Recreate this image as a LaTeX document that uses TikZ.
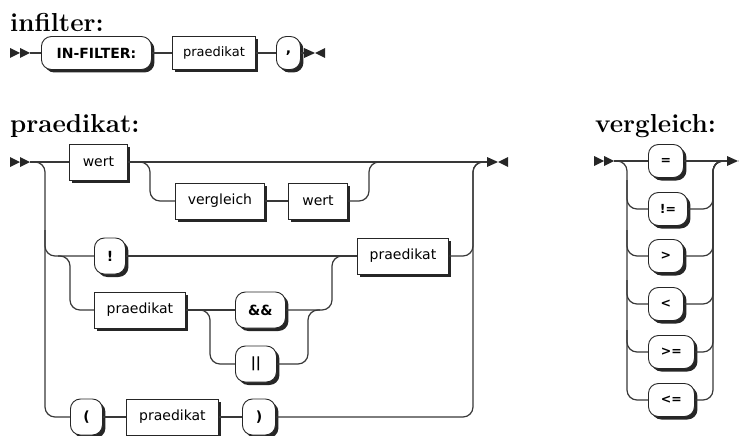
\documentclass[tikz,border=0pt]{standalone}
\usepackage{fontspec}
\newfontfamily\boxfont{DejaVu Sans}
\usetikzlibrary{shadows}
\tikzset{
  x=1pt, y=-1pt,
  rail/.style={draw=black!78, line width=1.2pt, rounded corners=10pt},
  boxbase/.style={draw=black!85, line width=0.9pt, fill=white, inner sep=0pt,
    drop shadow={shadow xshift=3pt, shadow yshift=-3pt, fill=black!85, opacity=1}},
  nt/.style={boxbase, minimum height=36pt, anchor=west,
    font=\boxfont\fontsize{14}{16}\selectfont},
  term/.style={boxbase, rounded corners=10pt, minimum height=36pt, anchor=west,
    font=\boxfont\bfseries\fontsize{14}{16}\selectfont},
  ntsmall/.style={nt, minimum height=33pt, font=\boxfont\fontsize{13}{15}\selectfont},
  termsmall/.style={term, rounded corners=10pt, minimum height=33pt,
    font=\boxfont\bfseries\fontsize{14}{16}\selectfont},
  termv/.style={term, minimum height=33pt, font=\boxfont\bfseries\fontsize{12.5}{14}\selectfont},
  title/.style={anchor=base west, inner sep=0pt, font=\bfseries\fontsize{26}{30}\selectfont},
  marker/.style={fill=black!85, draw=none},
}
% double arrow at the start of a rule, arrow pair at its end
\newcommand{\railstart}[2]{%
  \fill[marker] (#1,#2-5) -- (#1+10,#2) -- (#1,#2+5) -- cycle;
  \fill[marker] (#1+10,#2-5) -- (#1+20,#2) -- (#1+10,#2+5) -- cycle;}
\newcommand{\railstop}[2]{%
  \fill[marker] (#1,#2-5) -- (#1+11,#2) -- (#1,#2+5) -- cycle;
  \fill[marker] (#1+21,#2-5) -- (#1+11,#2) -- (#1+21,#2+5) -- cycle;}
\begin{document}
\begin{tikzpicture}
\useasboundingbox (0,0) rectangle (739,436);

% ---------------- infilter ----------------
\node[title] (tinf) at (10,32) {infilter:};
\railstart{10}{53}
\coordinate (i0) at (30,53);
\coordinate (iend) at (304,53);
\node[termsmall, minimum width=110pt] (inf) at (41,53) {IN-FILTER:};
\node[ntsmall, minimum width=83pt] (ipr) at (172,53) {praedikat};
\node[termsmall, minimum width=24pt] (comma) at (276,53) {,};
\draw[rail] (i0) -- (inf.west);
\draw[rail] (inf.east) -- (ipr.west);
\draw[rail] (ipr.east) -- (comma.west);
\draw[rail] (comma.east) -- (iend);
\railstop{304}{53}

% ---------------- praedikat ----------------
\node[title] (tpr) at (10,132) {praedikat:};
\railstart{10}{162}
\coordinate (p0) at (30,162);
\coordinate (pend) at (487,162);
% row 1: wert, optionally followed by vergleich wert
\node[nt, minimum width=58pt] (wertA) at (69,162) {wert};
\node[nt, minimum width=89pt] (vgl) at (175,201) {vergleich};
\node[nt, minimum width=59pt] (wertB) at (288,201) {wert};
% row 2
\node[term, minimum width=31pt] (bang) at (94,256) {!};
\node[nt, minimum width=91pt] (prB) at (357,256) {praedikat};
% rows 3 and 4
\node[nt, minimum width=91pt] (prC) at (94,310) {praedikat};
\node[term, minimum width=50pt] (and) at (235,310) {\&\&};
\node[term, minimum width=41pt] (or) at (235,364) {||};
% row 5
\node[term, minimum width=32pt] (lpar) at (70,417) {(};
\node[nt, minimum width=92pt] (prE) at (126,417) {praedikat};
\node[term, minimum width=33pt] (rpar) at (242,417) {)};

\draw[rail] (p0) -- (wertA.west);
\draw[rail] (wertA.east) -- (pend);
\draw[rail] (p0) -| (45,417) -- (lpar.west);
\draw[rail] (45,230) |- (bang.west);
\draw[rail] (138,162) -| (150,201) -- (vgl.west);
\draw[rail] (vgl.east) -- (wertB.west);
\draw[rail] (wertB.east) -| (369,162) -- (381,162);
\draw[rail] (bang.east) -- (prB.west);
\draw[rail] (prB.east) -| (473,162) -- (pend);
\draw[rail] (58,256) -| (70,310) -- (prC.west);
\draw[rail] (prC.east) -- (and.west);
\draw[rail] (and.east) -| (332,256) -- (345,256);
\draw[rail] (198,310) -| (210,364) -- (or.west);
\draw[rail] (or.east) -| (308,310) -- (320,310);
\draw[rail] (lpar.east) -- (prE.west);
\draw[rail] (prE.east) -- (rpar.west);
\draw[rail] (rpar.east) -| (473,162) -- (pend);
\railstop{487}{162}

% ---------------- vergleich ----------------
\node[title] (tvg) at (595,132) {vergleich:};
\railstart{594}{161}
\coordinate (v0) at (614,161);
\coordinate (vend) at (727,161);
\node[termv, minimum width=35pt] (eq) at (648,161) {=};
\node[termv, minimum width=39pt] (ne) at (648,209) {!=};
\node[termv, minimum width=35pt] (gt) at (648,256) {>};
\node[termv, minimum width=35pt] (lt) at (648,304) {<};
\node[termv, minimum width=46pt] (ge) at (648,352) {>=};
\node[termv, minimum width=46pt] (le) at (648,400) {<=};
\draw[rail] (v0) -- (eq.west);
\draw[rail] (eq.east) -- (vend);
\draw[rail] (v0) -| (627,400) -- (le.west);
\draw[rail] (627,180) |- (ne.west);
\draw[rail] (627,230) |- (gt.west);
\draw[rail] (627,280) |- (lt.west);
\draw[rail] (627,330) |- (ge.west);
\draw[rail] (ne.east) -| (713,161) -- (vend);
\draw[rail] (gt.east) -| (713,161) -- (vend);
\draw[rail] (lt.east) -| (713,161) -- (vend);
\draw[rail] (ge.east) -| (713,161) -- (vend);
\draw[rail] (le.east) -| (713,161) -- (vend);
\railstop{727}{161}
\end{tikzpicture}
\end{document}
